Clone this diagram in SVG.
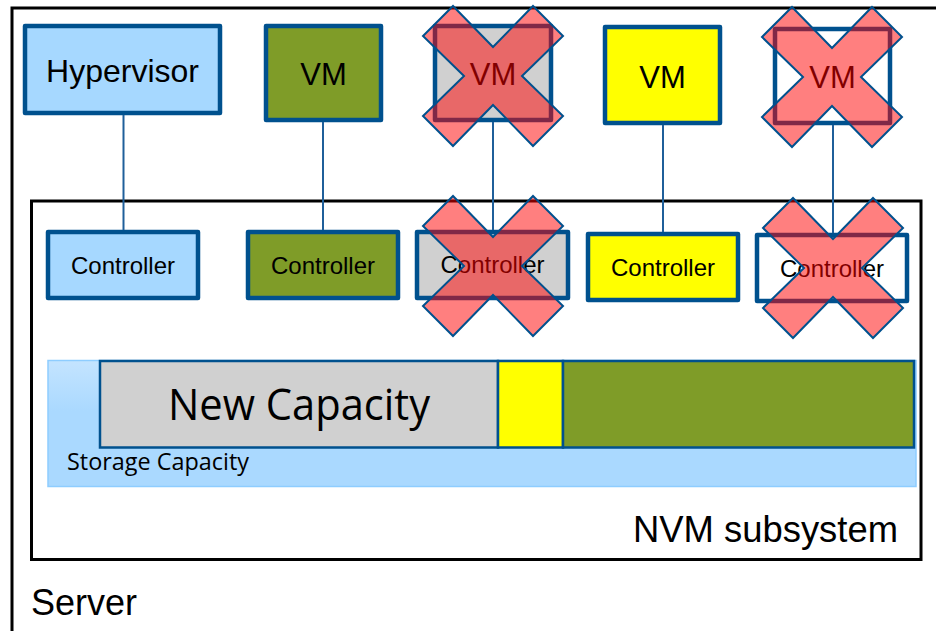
<svg xmlns="http://www.w3.org/2000/svg" width="936" height="631" viewBox="0 0 936 631">
<style>
.box{stroke:#00518E;stroke-width:4.5;stroke-linejoin:round}
.lbl{font-family:"Liberation Sans",Arial,sans-serif;fill:#000;text-anchor:middle}
.ctl{font-size:24px}
.vm{font-size:31px}
.conn{stroke:#1F5F9A;stroke-width:2;fill:none}
.cross{fill:#FF0000;fill-opacity:0.5;stroke:#00518E;stroke-width:2;stroke-linejoin:miter}
.seg{stroke:#00518E;stroke-width:2.5}
.cal{font-family:"Open Sans","Noto Sans",sans-serif;fill:#000}
</style>
<defs>
<linearGradient id="sc" x1="0" y1="0" x2="0" y2="1">
<stop offset="0" stop-color="#C4E4FF"/>
<stop offset="0.4" stop-color="#AAD9FF"/>
<stop offset="1" stop-color="#AAD9FF"/>
</linearGradient>
<polygon id="xmark" points="0,-29 40,-70 70,-40 29,0 70,40 40,70 0,29 -40,70 -70,40 -29,0 -70,-40 -40,-70"/>
</defs>
<rect width="936" height="631" fill="#fff"/>
<g id="server">
<rect x="12" y="8" width="940" height="640" fill="none" stroke="#000" stroke-width="3"/>
<text x="31" y="615" font-family="Liberation Sans,Arial,sans-serif" font-size="36">Server</text>
</g>
<g id="nvm-subsystem">
<rect x="31.5" y="201" width="889.5" height="358.5" fill="none" stroke="#000" stroke-width="3"/>
<text x="898" y="542" font-family="Liberation Sans,Arial,sans-serif" font-size="36" text-anchor="end" textLength="265" lengthAdjust="spacingAndGlyphs">NVM subsystem</text>
</g>
<g id="storage-capacity">
<rect x="48" y="360.5" width="868" height="126" fill="url(#sc)" stroke="#8ECDFF" stroke-width="1.5"/>
<text class="cal" x="67" y="470" font-size="24" textLength="182" lengthAdjust="spacingAndGlyphs">Storage Capacity</text>
</g>
<g id="new-capacity">
<rect class="seg" x="100" y="361" width="398" height="86.5" fill="#D0D0D0"/>
<text class="cal" x="168" y="420" font-size="43" textLength="262" lengthAdjust="spacingAndGlyphs">New Capacity</text>
</g>
<g id="yellow-capacity">
<rect class="seg" x="498" y="361" width="65" height="86.5" fill="#FFFF00"/>
</g>
<g id="green-capacity">
<rect class="seg" x="563" y="361" width="351" height="86.5" fill="#7F9C28"/>
</g>
<g id="hypervisor">
<rect class="box" x="25" y="26" width="195" height="87" fill="#A6D8FF"/>
<text class="lbl" x="122.5" y="82" font-size="32">Hypervisor</text>
</g>
<g id="vm-green">
<rect class="box" x="266" y="26" width="115" height="94" fill="#7F9C28"/>
<text class="lbl vm" x="323.5" y="85">VM</text>
</g>
<g id="vm-gray">
<rect class="box" x="435" y="26" width="116" height="94" fill="#D0D0D0"/>
<text class="lbl vm" x="493" y="85">VM</text>
</g>
<g id="vm-yellow">
<rect class="box" x="605" y="27" width="115" height="96" fill="#FFFF00"/>
<text class="lbl vm" x="662.5" y="88">VM</text>
</g>
<g id="vm-white">
<rect class="box" x="775" y="29" width="115" height="94" fill="#FFFFFF"/>
<text class="lbl vm" x="832.5" y="88">VM</text>
</g>
<g id="ctrl-blue">
<rect class="box" x="48" y="232" width="150" height="66" fill="#A6D8FF"/>
<text class="lbl ctl" x="123" y="274">Controller</text>
</g>
<g id="ctrl-green">
<rect class="box" x="248" y="232" width="150" height="66" fill="#7F9C28"/>
<text class="lbl ctl" x="323" y="274">Controller</text>
</g>
<g id="ctrl-gray">
<rect class="box" x="417" y="232" width="151" height="66" fill="#D0D0D0"/>
<text class="lbl ctl" x="492.5" y="273">Controller</text>
</g>
<g id="ctrl-yellow">
<rect class="box" x="588" y="234" width="150" height="66" fill="#FFFF00"/>
<text class="lbl ctl" x="663" y="276">Controller</text>
</g>
<g id="ctrl-white">
<rect class="box" x="757" y="235" width="150" height="66" fill="#FFFFFF"/>
<text class="lbl ctl" x="832" y="277">Controller</text>
</g>
<g id="removed-marks">
<use href="#xmark" class="cross" x="493" y="76"/>
<use href="#xmark" class="cross" x="832" y="77"/>
<use href="#xmark" class="cross" x="493" y="266"/>
<use href="#xmark" class="cross" x="833" y="268"/>
</g>
<g id="connectors">
<line class="conn" x1="123.5" y1="115" x2="123.5" y2="230"/>
<line class="conn" x1="323" y1="122" x2="323" y2="230"/>
<line class="conn" x1="493" y1="122" x2="493" y2="230"/>
<line class="conn" x1="663" y1="125" x2="663" y2="232"/>
<line class="conn" x1="833" y1="125" x2="833" y2="233"/>
</g>
</svg>
